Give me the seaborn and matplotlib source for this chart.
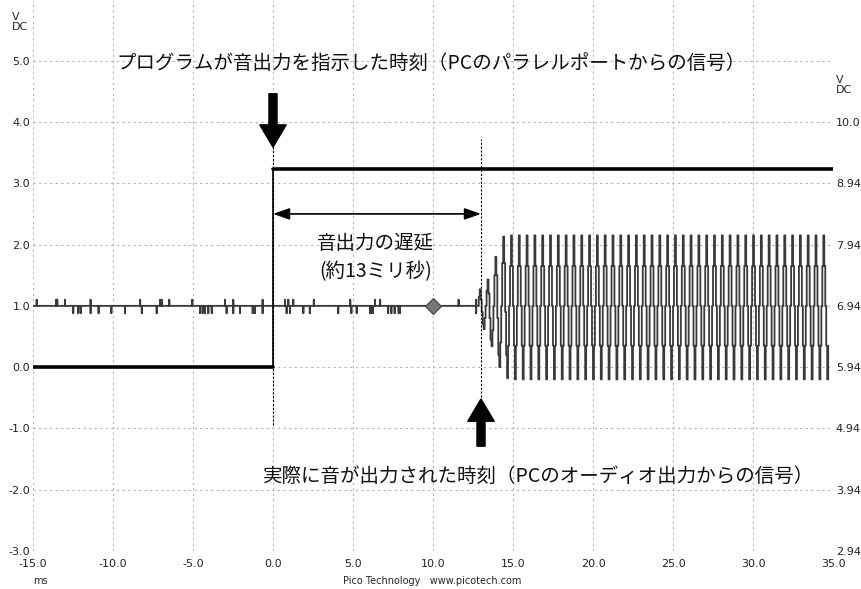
import matplotlib
matplotlib.use('Agg')
import matplotlib.pyplot as plt
import seaborn as sns
import pandas as pd
import numpy as np

# 軸の目盛り
x_ticks = [-15, -10, -5, 0, 5, 10, 15, 20, 25, 30, 35]
x_labels = ['-15.0', '-10.0', '-5.0', '0.0', '5.0', '10.0', '15.0', '20.0', '25.0', '30.0', '35.0']
left_ticks = [5, 4, 3, 2, 1, 0, -1, -2, -3]
left_labels = ['5.0', '4.0', '3.0', '2.0', '1.0', '0.0', '-1.0', '-2.0', '-3.0']
right_ticks = [4, 3, 2, 1, 0, -1, -2, -3]
right_labels = ['10.0', '8.94', '7.94', '6.94', '5.94', '4.94', '3.94', '2.94']

# パラレルポートの信号 (太線)
pc_time = [-15, 0, 0, 35]
pc_volt = [0.0, 0.0, 3.24, 3.24]
pc_seg = [0, 0, 1, 1]

# オーディオ出力: 1.0V 付近のノイズ (時刻 ms, 変化量 V)
base_volt = 1.0
noise_time = [-14.77, -13.56, -13.48, -13.0, -12.48, -12.17, -12.02, -11.4, -11.4, -10.9,
              -10.1, -9.25, -8.3, -8.2, -7.27, -7.06, -6.96, -6.48, -5.04, -4.56,
              -4.4, -4.25, -4.04, -3.83, -3.0, -2.9, -2.48, -2.48, -2.06, -1.27,
              -1.13, -0.65, -0.65, 0.75, 0.85, 0.96, 1.06, 1.27, 1.9, 2.3,
              2.55, 4.08, 4.83, 4.9, 5.23, 6.06, 6.15, 6.25, 6.37, 6.7,
              7.2, 7.4, 7.6, 7.85, 7.92, 11.6, 12.7, 12.7]
noise_dv = [0.1, 0.1, 0.1, 0.1, -0.12, -0.12, -0.12, 0.1, -0.12, -0.12,
            -0.12, -0.12, 0.1, -0.12, -0.12, 0.1, 0.1, 0.1, 0.1, -0.12,
            -0.12, -0.12, -0.12, -0.12, 0.1, -0.12, 0.1, -0.12, -0.12, -0.12,
            -0.12, 0.1, -0.12, 0.1, -0.12, 0.1, -0.12, 0.1, -0.12, -0.12,
            0.1, -0.12, 0.1, -0.12, -0.12, -0.12, -0.12, -0.12, 0.1, 0.1,
            -0.12, -0.12, -0.12, -0.12, -0.12, 0.1, 0.1, -0.12]

# 音の波形 (約 2kHz)
wave_start = 12.8
wave_dt = 0.061
onset_levels = [1.0, 1.15, 1.27, 1.1, 0.9, 0.7, 0.62, 0.8,
                1.0, 1.25, 1.43, 1.2, 0.8, 0.45, 0.34, 0.6,
                1.0, 1.5, 1.8, 1.5, 0.8, 0.2, 0.0, 0.4,
                1.0, 1.7, 2.13, 1.7, 0.9, 0.2, -0.18, 0.35]
cycle_levels = [1.0, 1.65, 2.15, 1.65, 1.0, 0.35, -0.2, 0.35]
n_cycles = 41

marker_time, marker_volt = 10.0, 1.0
delay_end = 13.0
delay_y = 2.5

# データフレームにまとめる
pc_df = pd.DataFrame({'time': pc_time, 'volt': pc_volt, 'seg': pc_seg})

a_t = [-15.0]
a_v = [base_volt]
for t, dv in zip(noise_time, noise_dv):
    a_t += [t, t, t]
    a_v += [base_volt, base_volt + dv, base_volt]
wave = onset_levels + cycle_levels * n_cycles
a_t += list(wave_start + wave_dt * np.arange(len(wave)))
a_v += wave
audio_df = pd.DataFrame({'time': a_t, 'volt': a_v})

sns.set_style('white')
plt.rcParams['font.family'] = ['Noto Sans CJK JP', 'DejaVu Sans']

fig = plt.figure(figsize=(8.61, 5.89), dpi=100)
ax = fig.add_axes([0.0383, 0.0645, 0.9292, 0.9355])

sns.lineplot(data=audio_df, x='time', y='volt', estimator=None, sort=False,
             color='#3a3a3a', lw=1.3, drawstyle='steps-post', ax=ax)
sns.lineplot(data=pc_df, x='time', y='volt', units='seg', estimator=None, sort=False,
             color='black', lw=2.6, ax=ax)
ax.vlines(0, 0, 3.24, color='black', lw=1.2)
ax.vlines(0, -0.95, 3.6, color='black', lw=0.8, linestyles=(0, (2, 1.5)))
ax.vlines(delay_end, -0.55, 3.72, color='black', lw=0.8, linestyles=(0, (2, 1.5)))
ax.plot([marker_time], [marker_volt], marker='D', ms=8, color='#777777', mec='#444444', mew=0.8)

ax.set_xlim(-15, 35)
ax.set_ylim(-3, 5.99)
ax.set_xticks(x_ticks)
ax.set_xticklabels(x_labels, family='DejaVu Sans', fontsize=8)
ax.set_yticks(left_ticks)
ax.set_yticklabels(left_labels, family='DejaVu Sans', fontsize=8)
ax.tick_params(length=0, pad=2, colors='#222222')
ax.tick_params(axis='x', pad=6)
ax.grid(True, color='#b5b5b5', lw=0.8, linestyle=(0, (2, 3)))
ax.set_xlabel('')
ax.set_ylabel('')
for s in ax.spines.values():
    s.set_visible(False)

ax2 = ax.twinx()
ax2.set_ylim(-3, 5.99)
ax2.set_yticks(right_ticks)
ax2.set_yticklabels(right_labels, family='DejaVu Sans', fontsize=8)
ax2.tick_params(length=0, pad=2, colors='#222222')
for s in ax2.spines.values():
    s.set_visible(False)
ax2.grid(False)

# 矢印
ax.annotate('', xy=(0, 3.59), xytext=(0, 4.46),
            arrowprops=dict(arrowstyle='simple,head_length=1.6,head_width=1.9,tail_width=0.58',
                            color='black', mutation_scale=10, shrinkA=0, shrinkB=0))
ax.annotate('', xy=(delay_end, -0.52), xytext=(delay_end, -1.29),
            arrowprops=dict(arrowstyle='simple,head_length=1.6,head_width=1.9,tail_width=0.58',
                            color='black', mutation_scale=10, shrinkA=0, shrinkB=0))
ax.annotate('', xy=(0, delay_y), xytext=(delay_end, delay_y),
            arrowprops=dict(arrowstyle='<|-|>,head_length=1.0,head_width=0.35',
                            color='black', lw=1.2, mutation_scale=10, shrinkA=0, shrinkB=0))

# テキスト
ax.text(9.9, 4.95, 'プログラムが音出力を指示した時刻（PCのパラレルポートからの信号）',
        ha='center', va='center', fontsize=14, color='#111111')
ax.text(6.4, 2.02, '音出力の遅延', ha='center', va='center', fontsize=14, color='#111111')
ax.text(6.4, 1.56, '(約13ミリ秒)', ha='center', va='center', fontsize=14, color='#111111')
ax.text(16.6, -1.79, '実際に音が出力された時刻（PCのオーディオ出力からの信号）',
        ha='center', va='center', fontsize=14, color='#111111')

fig.text(12 / 861, 1 - 12 / 589, 'V\nDC', ha='left', va='top', fontsize=8,
         family='DejaVu Sans', linespacing=1.0)
fig.text(836 / 861, 1 - 75 / 589, 'V\nDC', ha='left', va='top', fontsize=8,
         family='DejaVu Sans', linespacing=1.0)
fig.text(33 / 861, 1 - 581 / 589, 'ms', ha='left', va='center', fontsize=7, family='DejaVu Sans')
fig.text(432 / 861, 1 - 581 / 589, 'Pico Technology   www.picotech.com', ha='center', va='center',
         fontsize=7, family='DejaVu Sans')

fig.savefig('out.png', dpi=100)
